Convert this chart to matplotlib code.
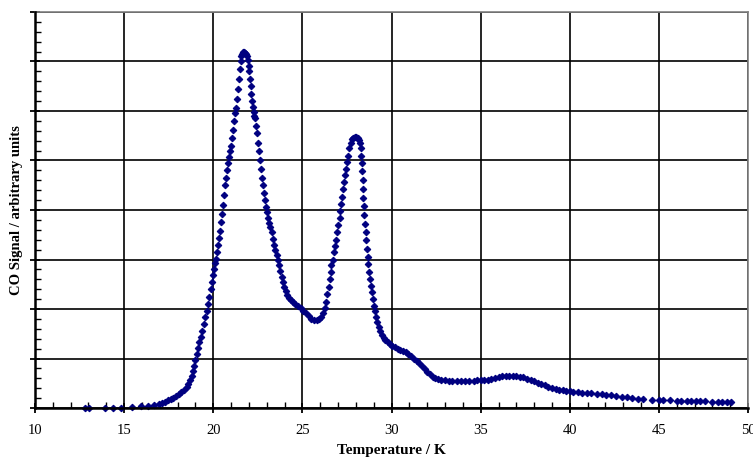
import matplotlib
matplotlib.use("Agg")
import matplotlib.pyplot as plt
from matplotlib.ticker import MultipleLocator, NullFormatter

# temperature (K) and CO signal (arbitrary units)
temp = [12.8, 13.05, 13.95, 14.35, 14.85, 15.45, 15.95, 16.35, 16.7, 16.95,
        17.1, 17.3, 17.45, 17.6, 17.75, 17.9, 18.05, 18.2, 18.35, 18.5,
        18.6, 18.7, 18.78, 18.85, 18.92, 19.0, 19.07, 19.15, 19.22, 19.3,
        19.38, 19.46, 19.54, 19.62, 19.7, 19.78, 19.85, 19.92, 19.98, 20.04,
        20.1, 20.16, 20.22, 20.28, 20.34, 20.4, 20.45, 20.5, 20.55, 20.6,
        20.65, 20.7, 20.76, 20.82, 20.88, 20.94, 21.0, 21.05, 21.1, 21.16,
        21.22, 21.28, 21.33, 21.38, 21.43, 21.48, 21.53, 21.58, 21.63, 21.68,
        21.73, 21.78, 21.83, 21.88, 21.93, 21.98, 22.02, 22.06, 22.1, 22.14,
        22.18, 22.22, 22.26, 22.3, 22.36, 22.42, 22.47, 22.52, 22.57, 22.62,
        22.67, 22.72, 22.78, 22.84, 22.9, 22.96, 23.02, 23.08, 23.14, 23.2,
        23.27, 23.34, 23.41, 23.48, 23.55, 23.62, 23.69, 23.76, 23.83, 23.9,
        23.98, 24.06, 24.15, 24.25, 24.35, 24.48, 24.6, 24.75, 24.9, 25.05,
        25.2, 25.35, 25.5, 25.65, 25.8, 25.95, 26.05, 26.15, 26.25, 26.33,
        26.4, 26.47, 26.53, 26.58, 26.63, 26.7, 26.77, 26.84, 26.9, 26.96,
        27.02, 27.08, 27.13, 27.18, 27.23, 27.28, 27.34, 27.4, 27.46, 27.52,
        27.58, 27.64, 27.7, 27.77, 27.85, 27.93, 28.01, 28.09, 28.17, 28.24,
        28.28, 28.31, 28.33, 28.35, 28.37, 28.39, 28.41, 28.43, 28.46, 28.5,
        28.54, 28.58, 28.62, 28.66, 28.7, 28.74, 28.79, 28.84, 28.89, 28.95,
        29.01, 29.07, 29.13, 29.2, 29.27, 29.36, 29.45, 29.55, 29.65, 29.78,
        29.92, 30.05, 30.2, 30.35, 30.5, 30.65, 30.8, 30.95, 31.1, 31.25,
        31.4, 31.55, 31.7, 31.85, 32.0, 32.15, 32.3, 32.45, 32.6, 32.8,
        33.0, 33.2, 33.4, 33.65, 33.9, 34.1, 34.35, 34.6, 34.8, 35.0,
        35.2, 35.4, 35.6, 35.8, 36.0, 36.2, 36.4, 36.6, 36.8, 37.0,
        37.2, 37.4, 37.6, 37.8, 38.0, 38.2, 38.4, 38.6, 38.8, 39.0,
        39.2, 39.4, 39.6, 39.8, 40.0, 40.2, 40.45, 40.7, 40.95, 41.2,
        41.5, 41.8, 42.05, 42.3, 42.6, 42.9, 43.2, 43.5, 43.8, 44.1,
        44.6, 45.0, 45.25, 45.6, 46.0, 46.25, 46.55, 46.8, 47.05, 47.3,
        47.6, 48.0, 48.3, 48.55, 48.8, 49.05]
signal = [0.0, 0.0, 0.01, 0.01, 0.01, 0.03, 0.05, 0.05, 0.06, 0.09,
          0.11, 0.13, 0.16, 0.18, 0.21, 0.24, 0.28, 0.32, 0.37, 0.43,
          0.48, 0.56, 0.65, 0.74, 0.85, 0.98, 1.1, 1.22, 1.33, 1.44,
          1.56, 1.7, 1.84, 1.97, 2.1, 2.25, 2.4, 2.54, 2.68, 2.8,
          2.92, 3.02, 3.15, 3.3, 3.44, 3.58, 3.75, 3.92, 4.1, 4.3,
          4.5, 4.65, 4.8, 4.95, 5.08, 5.2, 5.3, 5.45, 5.62, 5.8,
          5.95, 6.05, 6.25, 6.45, 6.65, 6.85, 7.0, 7.1, 7.16, 7.19,
          7.19, 7.18, 7.15, 7.1, 7.02, 6.9, 6.8, 6.65, 6.5, 6.35,
          6.2, 6.08, 5.98, 5.9, 5.85, 5.7, 5.55, 5.35, 5.2, 5.0,
          4.82, 4.65, 4.5, 4.35, 4.2, 4.07, 3.95, 3.84, 3.74, 3.65,
          3.55, 3.42, 3.3, 3.2, 3.1, 3.0, 2.88, 2.77, 2.65, 2.54,
          2.45, 2.36, 2.29, 2.23, 2.18, 2.14, 2.1, 2.06, 2.02, 1.97,
          1.91, 1.85, 1.8, 1.78, 1.77, 1.79, 1.84, 1.92, 2.03, 2.15,
          2.3, 2.45, 2.6, 2.75, 2.88, 3.0, 3.15, 3.28, 3.4, 3.55,
          3.7, 3.84, 3.98, 4.12, 4.27, 4.42, 4.57, 4.7, 4.83, 4.96,
          5.1, 5.25, 5.36, 5.43, 5.46, 5.47, 5.47, 5.46, 5.42, 5.36,
          5.25, 5.1, 4.95, 4.78, 4.6, 4.42, 4.25, 4.08, 3.9, 3.72,
          3.55, 3.4, 3.22, 3.05, 2.9, 2.75, 2.6, 2.46, 2.34, 2.2,
          2.07, 1.95, 1.84, 1.73, 1.63, 1.55, 1.48, 1.42, 1.38, 1.33,
          1.29, 1.26, 1.23, 1.2, 1.18, 1.16, 1.13, 1.1, 1.05, 1.0,
          0.95, 0.9, 0.85, 0.79, 0.73, 0.68, 0.63, 0.6, 0.58, 0.56,
          0.56, 0.55, 0.55, 0.55, 0.54, 0.55, 0.54, 0.55, 0.56, 0.56,
          0.56, 0.57, 0.59, 0.61, 0.63, 0.64, 0.64, 0.64, 0.64, 0.64,
          0.63, 0.62, 0.59, 0.57, 0.54, 0.51, 0.48, 0.46, 0.43, 0.41,
          0.39, 0.37, 0.36, 0.35, 0.34, 0.33, 0.32, 0.31, 0.31, 0.3,
          0.29, 0.28, 0.27, 0.26, 0.24, 0.23, 0.22, 0.2, 0.19, 0.18,
          0.17, 0.17, 0.16, 0.16, 0.15, 0.14, 0.15, 0.15, 0.15, 0.15,
          0.14, 0.13, 0.13, 0.13, 0.13, 0.12]

plt.rcParams['font.family'] = ['Liberation Serif', 'DejaVu Serif']

fig = plt.figure(figsize=(7.53, 4.59), dpi=100)
ax = fig.add_axes([0.0465, 0.111, 0.947, 0.863])

ax.plot(temp, signal, linestyle='none', marker='D', markersize=3.3,
        color='#000080', markeredgewidth=0.8, zorder=3, clip_on=False)

ax.set_xlim(10, 50)
ax.set_ylim(0, 8)
ax.xaxis.set_major_locator(MultipleLocator(5))
ax.xaxis.set_minor_locator(MultipleLocator(1))
ax.yaxis.set_major_locator(MultipleLocator(1))
ax.yaxis.set_minor_locator(MultipleLocator(0.2))
ax.yaxis.set_major_formatter(NullFormatter())

ax.grid(True, which='major', color='black', linewidth=1.2, zorder=1)
ax.set_axisbelow(True)

ax.tick_params(which='major', direction='inout', length=7, width=1.3,
               labelsize=10.5, pad=8)
ax.tick_params(which='minor', direction='in', length=4, width=1.0)
ax.tick_params(axis='x', which='both', top=False)
ax.tick_params(axis='y', which='both', right=False)

for side in ['left', 'bottom']:
    ax.spines[side].set_linewidth(1.8)
    ax.spines[side].set_zorder(4)
for side in ['top', 'right']:
    ax.spines[side].set_color('#808080')
    ax.spines[side].set_linewidth(1.2)

ax.set_xlabel("Temperature / K", fontsize=11, fontweight='bold', labelpad=5)
ax.set_ylabel("CO Signal / arbitrary units", fontsize=10.5, fontweight='bold')
ax.yaxis.set_label_coords(-0.017, 0.5)

fig.savefig("out.png", dpi=100)
